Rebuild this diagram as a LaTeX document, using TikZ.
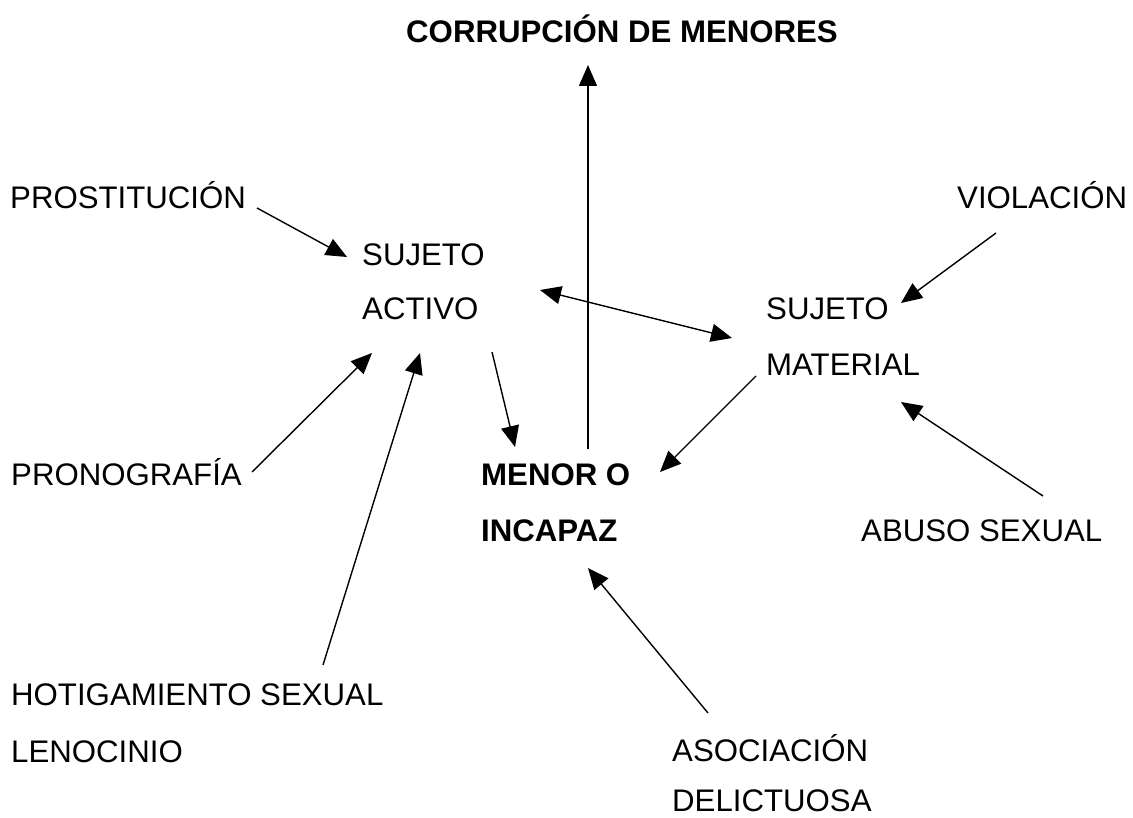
\documentclass[tikz,border=0pt]{standalone}
\usepackage{fontspec}
\setmainfont{Liberation Sans}
\usetikzlibrary{arrows.meta}
\begin{document}
\begin{tikzpicture}[x=1pt,y=-1pt,
  lbl/.style={anchor=base west,inner sep=0pt,font=\fontsize{31.2}{36}\selectfont},
  blbl/.style={lbl,font=\fontsize{31.2}{36}\selectfont\bfseries},
  conn/.style={line width=1.4pt,-{Triangle[length=21pt,width=18pt]}},
  dconn/.style={line width=1.4pt,{Triangle[length=21pt,width=18pt]}-{Triangle[length=21pt,width=18pt]}}]
\useasboundingbox (0,0) rectangle (1133,818);
% texts
\node[blbl] (title) at (406,43) {CORRUPCIÓN DE MENORES};
\node[lbl] (prost) at (10,209) {PROSTITUCIÓN};
\node[lbl] (sa1) at (362,266) {SUJETO};
\node[lbl] (sa2) at (362,320) {ACTIVO};
\node[lbl] (sm1) at (766,320) {SUJETO};
\node[lbl] (sm2) at (766,375) {MATERIAL};
\node[lbl] (viol) at (957,209) {VIOLACIÓN};
\node[lbl] (abuso) at (861,541) {ABUSO SEXUAL};
\node[blbl] (men1) at (481,485) {MENOR O};
\node[blbl] (men2) at (481,541) {INCAPAZ};
\node[lbl] (aso1) at (672,761) {ASOCIACIÓN};
\node[lbl] (aso2) at (672,811) {DELICTUOSA};
\node[lbl] (prono) at (11,485) {PRONOGRAFÍA};
\node[lbl] (hot1) at (11,705) {HOTIGAMIENTO SEXUAL};
\node[lbl] (hot2) at (11,762) {LENOCINIO};
% connector end points
\coordinate (prostout) at (257,208);
\coordinate (sain1) at (347,257);
\coordinate (pronoout) at (252,472);
\coordinate (sain2) at (372,353);
\coordinate (hotout) at (323,665);
\coordinate (sain3) at (420,353);
\coordinate (saout) at (492,352);
\coordinate (menin1) at (515,447);
\coordinate (menout) at (588,449);
\coordinate (titlein) at (588,65);
\coordinate (saend) at (540,290);
\coordinate (smend) at (732,338);
\coordinate (violout) at (996,233);
\coordinate (smin1) at (901,303);
\coordinate (smout) at (756,376);
\coordinate (menin2) at (660,472);
\coordinate (abusoout) at (1043,496);
\coordinate (smin2) at (901,402);
\coordinate (asoout) at (708,713);
\coordinate (menin3) at (588,568);
% connectors
\draw[conn] (prostout) -- (sain1);
\draw[conn] (pronoout) -- (sain2);
\draw[conn] (hotout) -- (sain3);
\draw[conn] (saout) -- (menin1);
\draw[conn] (menout) -- (titlein);
\draw[dconn] (saend) -- (smend);
\draw[conn] (violout) -- (smin1);
\draw[conn] (smout) -- (menin2);
\draw[conn] (abusoout) -- (smin2);
\draw[conn] (asoout) -- (menin3);
\end{tikzpicture}
\end{document}
